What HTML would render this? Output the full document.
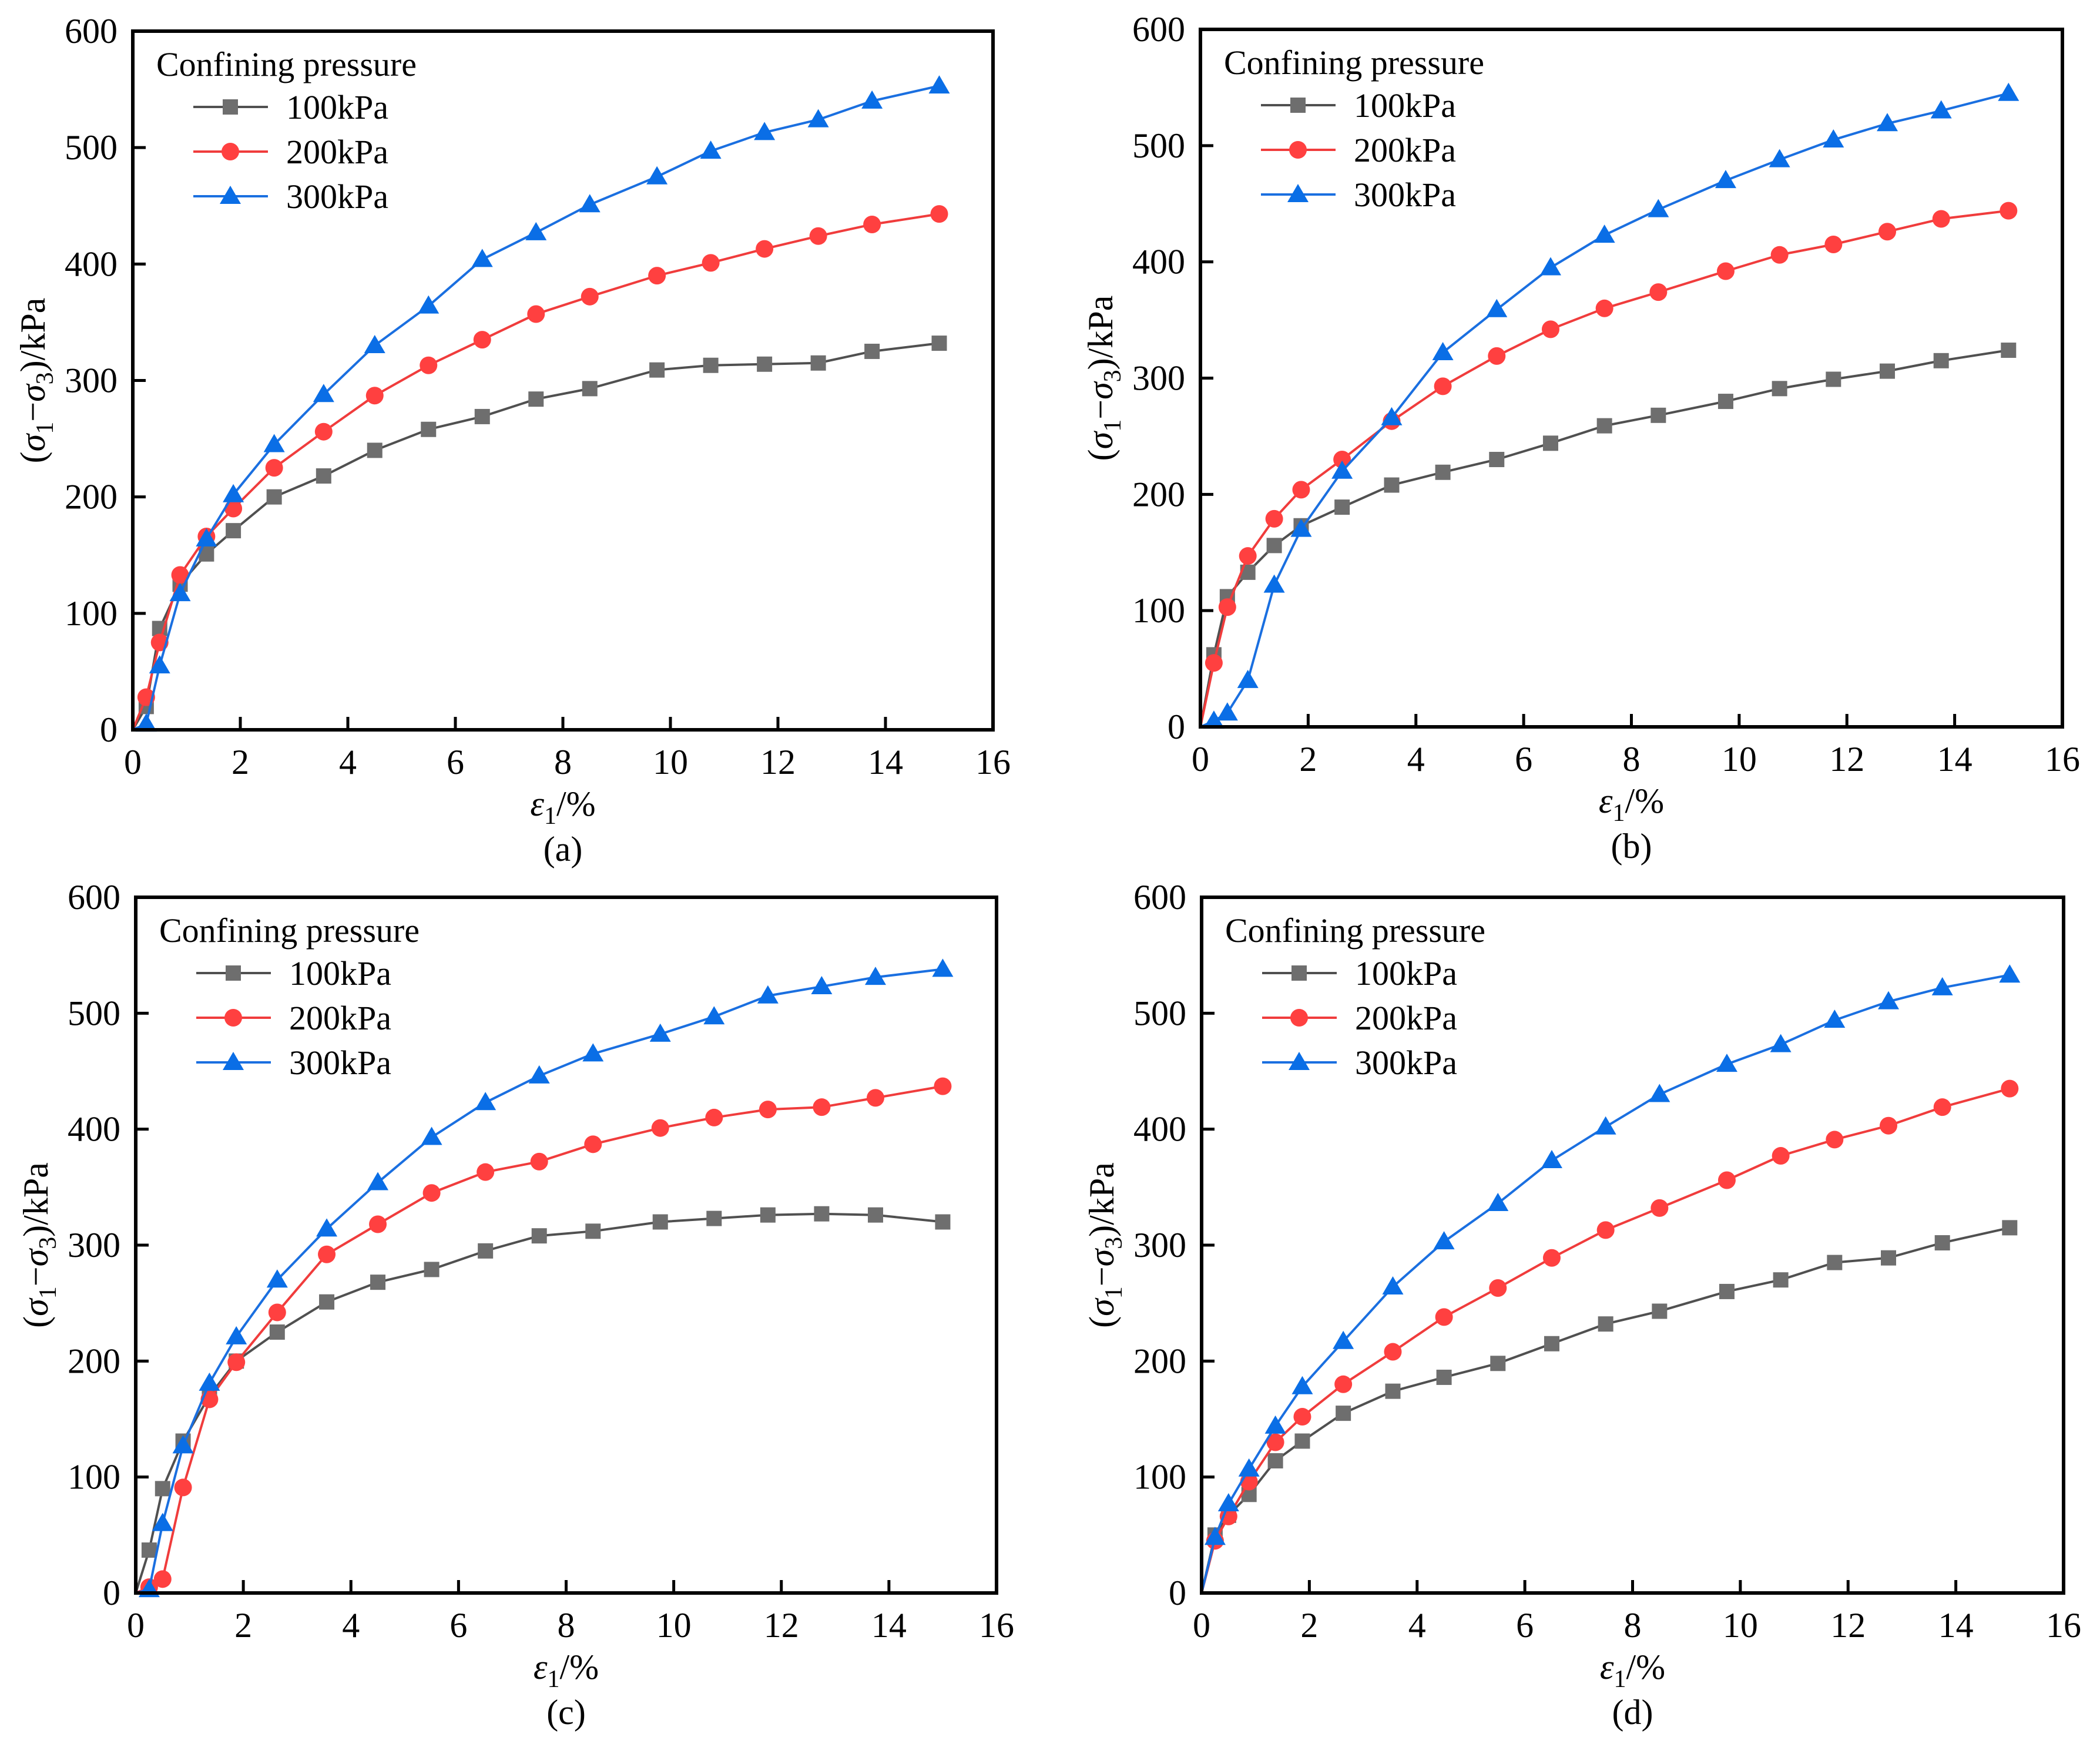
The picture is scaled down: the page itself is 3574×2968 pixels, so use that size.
<!DOCTYPE html>
<html><head><meta charset="utf-8"><style>
html,body{margin:0;padding:0;background:#fff;}
svg{display:block;font-family:"Liberation Serif",serif;}
</style></head><body>
<svg id="fig" width="3574" height="2968" viewBox="0 0 3574 2968" xmlns="http://www.w3.org/2000/svg"></svg>
<script>
const strainX = [0,0.25,0.5,0.88,1.37,1.87,2.63,3.55,4.5,5.5,6.5,7.5,8.5,9.75,10.75,11.75,12.75,13.75,15];
const xTicks = [0,2,4,6,8,10,12,14,16];
const yTicks = [0,100,200,300,400,500,600];
const seriesNames = ["100kPa","200kPa","300kPa"];
const aS100 = [0,20,87,125,151,171,200,218,240,258,269,284,293,309,313,314,315,325,332];
const aS200 = [0,28,75,133,166,190,225,256,287,313,335,357,372,390,401,413,424,434,443];
const aS300 = [0,5,55,117,164,202,245,288,330,364,404,427,451,475,497,513,524,540,553];
const bS100 = [0,62,112,133,156,173,189,208,219,230,244,259,268,280,291,299,306,315,324];
const bS200 = [0,55,103,147,179,204,230,263,293,319,342,360,374,392,406,415,426,437,444];
const bS300 = [0,5,12,40,122,170,220,266,322,359,395,423,445,470,488,505,519,530,545];
const cS100 = [0,37,90,131,170,200,225,251,268,279,295,308,312,320,323,326,327,326,320];
const cS200 = [0,5,12,91,167,199,242,292,318,345,363,372,387,401,410,417,419,427,437];
const cS300 = [0,3,60,127,181,221,270,314,354,393,423,446,465,482,497,515,523,531,538];
const dS100 = [0,50,67,85,114,131,155,174,186,198,215,232,243,260,270,285,289,302,315];
const dS200 = [0,45,66,96,130,152,180,208,238,263,289,313,332,356,377,391,403,419,435];
const dS300 = [0,48,77,107,144,178,217,264,303,336,373,402,430,456,473,494,510,522,533];

const NS="http://www.w3.org/2000/svg";
const svg=document.getElementById('fig');
function mk(tag,attrs,parent){const e=document.createElementNS(NS,tag);for(const k in attrs)e.setAttribute(k,attrs[k]);(parent||svg).appendChild(e);return e;}
const colors=[{line:"#505050",fill:"#6e6e6e"},{line:"#f03c3c",fill:"#ff4040"},{line:"#1a6fe0",fill:"#0a6ee6"}];

function marker(g,type,x,y,c){
  let m;
  if(type===0){m=mk('rect',{x:x-13,y:y-13,width:26,height:26,fill:c.fill},g);}
  else if(type===1){m=mk('circle',{cx:x,cy:y,r:15,fill:c.fill},g);}
  else {m=mk('polygon',{points:`${x},${y-18} ${x+18},${y+13} ${x-18},${y+13}`,fill:c.fill},g);}
  
  
}

function panel(id,L,R,T,B,sets,label){
  const g=mk('g',{});
  
  
  const sx=v=>L+(v/16)*(R-L);
  const sy=v=>B-(v/600)*(B-T);
  sets.forEach((vals,si)=>{
    const sg=mk('g',{},g);
    
    
    const pts=strainX.map((x,i)=>sx(x)+','+sy(vals[i])).join(' ');
    const pl=mk('polyline',{points:pts,fill:'none',stroke:colors[si].line,'stroke-width':4},sg);
    
    
    strainX.forEach((x,i)=>{ if(i>0) marker(sg,si,sx(x),sy(vals[i]),colors[si]); });
  });
  const fr=mk('rect',{x:L,y:T,width:R-L,height:B-T,fill:'none',stroke:'#000','stroke-width':6},g);
  
  
  xTicks.forEach(t=>{
    mk('line',{x1:sx(t),x2:sx(t),y1:B,y2:B-22,stroke:'#000','stroke-width':5},g);
    const tx=mk('text',{x:sx(t),y:B+75,'font-size':60,'text-anchor':'middle'},g);
    tx.textContent=t;
    
    
  });
  yTicks.forEach(t=>{
    mk('line',{x1:L,x2:L+22,y1:sy(t),y2:sy(t),stroke:'#000','stroke-width':5},g);
    const tx=mk('text',{x:L-26,y:sy(t)+20,'font-size':60,'text-anchor':'end'},g);
    tx.textContent=t;
    
    
  });
  const xt=mk('text',{x:(L+R)/2,y:B+146,'font-size':60,'text-anchor':'middle'},g);
  xt.innerHTML='<tspan font-style="italic">ε</tspan><tspan font-size="42" dy="14">1</tspan><tspan dy="-14">/%</tspan>';
  
  
  const cy=(T+B)/2, cx=L-150;
  const yt=mk('text',{x:cx,y:cy,'font-size':60,'text-anchor':'middle',transform:`rotate(-90 ${cx} ${cy})`},g);
  yt.innerHTML='(<tspan font-style="italic">σ</tspan><tspan font-size="42" dy="14">1</tspan><tspan dy="-14">−</tspan><tspan font-style="italic">σ</tspan><tspan font-size="42" dy="14">3</tspan><tspan dy="-14">)/kPa</tspan>';
  
  
  const cap=mk('text',{x:(L+R)/2,y:B+223,'font-size':60,'text-anchor':'middle'},g);
  cap.textContent=label;
  
  
  const lg=mk('g',{},g);
  
  
  const lt=mk('text',{x:L+40,y:T+76,'font-size':58},lg);
  lt.textContent='Confining pressure';
  
  
  seriesNames.forEach((n,i)=>{
    const y=T+129+i*76;
    const eg=mk('g',{},lg);
    
    
    mk('line',{x1:L+103,x2:L+230,y1:y,y2:y,stroke:colors[i].line,'stroke-width':4},eg);
    marker(eg,i,L+166,y,colors[i]);
    const t=mk('text',{x:L+261,y:y+20,'font-size':58},eg);
    t.textContent=n;
  });
}
panel('a',226,1690,53,1242,[aS100,aS200,aS300],'(a)');
panel('b',2043,3510,50,1237,[bS100,bS200,bS300],'(b)');
panel('c',231,1696,1527,2711,[cS100,cS200,cS300],'(c)');
panel('d',2045,3512,1527,2711,[dS100,dS200,dS300],'(d)');
</script>
</body></html>
